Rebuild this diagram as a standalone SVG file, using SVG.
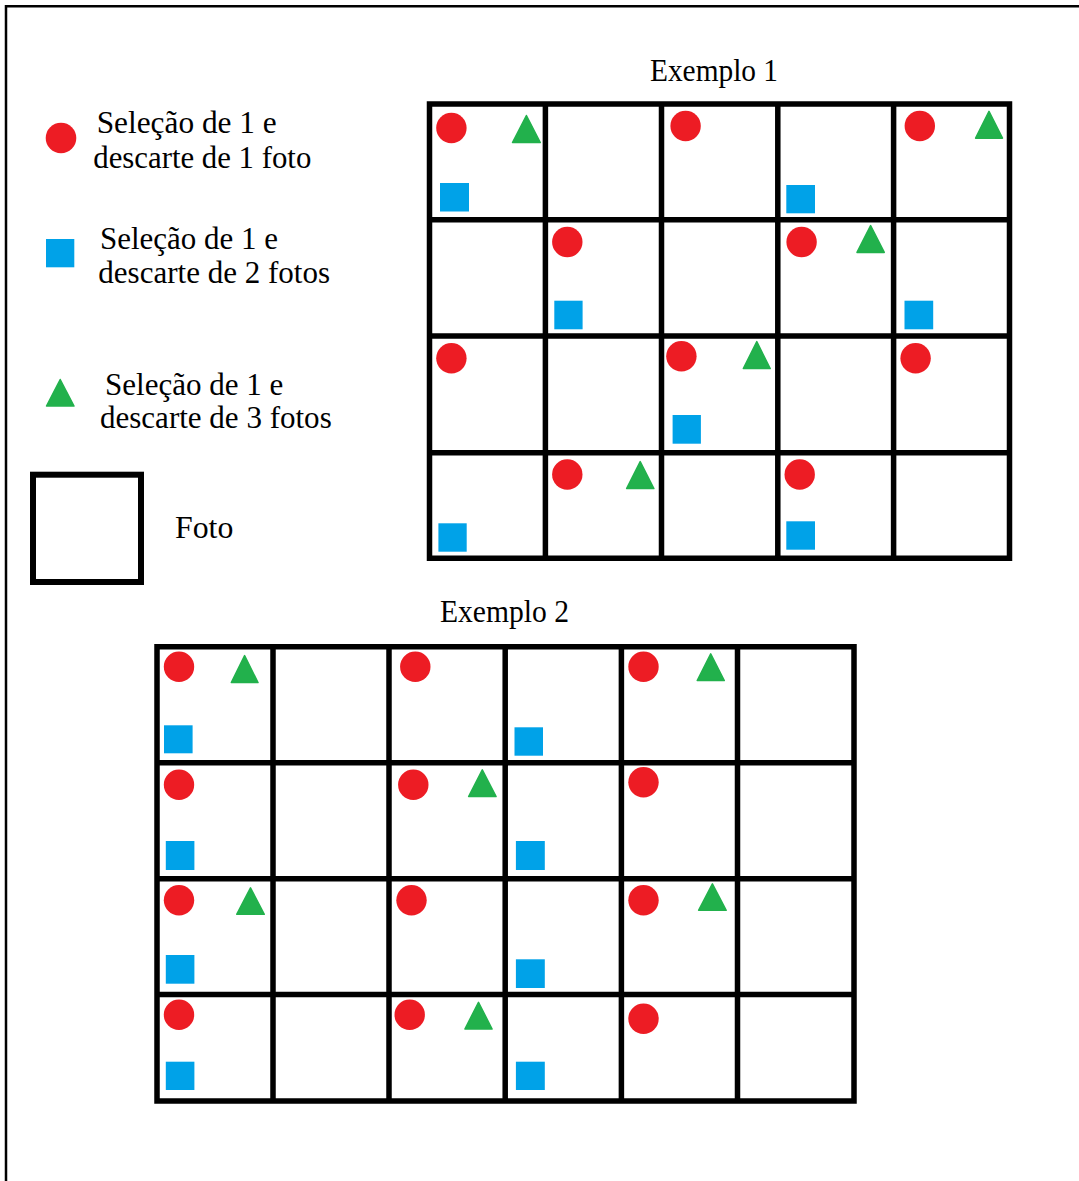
<svg xmlns="http://www.w3.org/2000/svg" width="1079" height="1181" viewBox="0 0 1079 1181">
<style>
.t{font-family:"Liberation Serif","Times New Roman",serif;font-size:31px;fill:#000}
.r{fill:#ED1C24}
.b{fill:#00A2E8}
.g{fill:#22B14C;stroke:#22B14C;stroke-width:1.5;stroke-linejoin:round}
.grid{fill:none;stroke:#000;stroke-width:5.5}
</style>
<rect width="1079" height="1181" fill="#fff"/>
<path id="frame" d="M6,1181V6.3H1079" fill="none" stroke="#000" stroke-width="2.5"/>

<g id="legend">
  <g id="legend-circle">
    <circle class="r" cx="61" cy="138" r="15.3"/>
    <text class="t" x="96.7" y="132.7" textLength="180" lengthAdjust="spacingAndGlyphs">Seleção de 1 e</text>
    <text class="t" x="93.3" y="168.3" textLength="218" lengthAdjust="spacingAndGlyphs">descarte de 1 foto</text>
  </g>
  <g id="legend-square">
    <rect class="b" x="46" y="239" width="28.3" height="28.3"/>
    <text class="t" x="100" y="249" textLength="178" lengthAdjust="spacingAndGlyphs">Seleção de 1 e</text>
    <text class="t" x="98.3" y="283.3" textLength="231.7" lengthAdjust="spacingAndGlyphs">descarte de 2 fotos</text>
  </g>
  <g id="legend-triangle">
    <polygon class="g" points="46.5,406 60.2,379.5 74,406"/>
    <text class="t" x="105" y="395" textLength="178.3" lengthAdjust="spacingAndGlyphs">Seleção de 1 e</text>
    <text class="t" x="100" y="428.3" textLength="231.7" lengthAdjust="spacingAndGlyphs">descarte de 3 fotos</text>
  </g>
  <g id="legend-foto">
    <rect x="33" y="474.7" width="108" height="107.3" fill="none" stroke="#000" stroke-width="6"/>
    <text class="t" x="175" y="538.3" textLength="58.3" lengthAdjust="spacingAndGlyphs">Foto</text>
  </g>
</g>

<g id="exemplo1">
  <text class="t" x="650" y="81" textLength="128" lengthAdjust="spacingAndGlyphs">Exemplo 1</text>
  <path class="grid" d="M429.5,104H1009.5V558.3H429.5Z M545.4,104V558.3 M661.5,104V558.3 M777.8,104V558.3 M893.6,104V558.3 M429.5,219.7H1009.5 M429.5,336H1009.5 M429.5,452.8H1009.5"/>
  <g id="ex1-marks">
    <circle class="r" cx="451.4" cy="128" r="15.2"/>
    <polygon class="g" points="512.5,142.5 526.4,115.5 540.3,142.5"/>
    <rect class="b" x="440" y="183" width="29" height="28.5"/>
    <circle class="r" cx="685.6" cy="126" r="15.2"/>
    <rect class="b" x="786.3" y="185" width="28.7" height="28.3"/>
    <circle class="r" cx="919.8" cy="126" r="15.2"/>
    <polygon class="g" points="975.6,138.2 989,111.3 1002.5,138.2"/>
    <circle class="r" cx="567.3" cy="242" r="15.2"/>
    <rect class="b" x="554.3" y="300.7" width="28.3" height="28.6"/>
    <circle class="r" cx="801.6" cy="242" r="15.2"/>
    <polygon class="g" points="857,252.4 870.6,225.6 884.3,252.4"/>
    <rect class="b" x="904.5" y="300.7" width="28.7" height="28.6"/>
    <circle class="r" cx="451.4" cy="358.3" r="15.2"/>
    <circle class="r" cx="681.4" cy="356.3" r="15.2"/>
    <polygon class="g" points="743.3,368.6 756.8,341.6 770.2,368.6"/>
    <rect class="b" x="672.6" y="415" width="28.3" height="28.7"/>
    <circle class="r" cx="915.6" cy="358.3" r="15.2"/>
    <rect class="b" x="438.4" y="523.3" width="28.3" height="28.4"/>
    <circle class="r" cx="567.3" cy="474.5" r="15.2"/>
    <polygon class="g" points="626.6,488.6 640.2,461.6 653.9,488.6"/>
    <circle class="r" cx="799.7" cy="474.5" r="15.2"/>
    <rect class="b" x="786.3" y="521.3" width="28.7" height="28.4"/>
  </g>
</g>

<g id="exemplo2">
  <text class="t" x="440" y="621.7" textLength="129" lengthAdjust="spacingAndGlyphs">Exemplo 2</text>
  <path class="grid" d="M157,646.7H854V1101H157Z M273,646.7V1101 M389,646.7V1101 M505.2,646.7V1101 M621.4,646.7V1101 M737.5,646.7V1101 M157,762.8H854 M157,878.8H854 M157,994.5H854"/>
  <g id="ex2-marks">
    <circle class="r" cx="179" cy="666.7" r="15.2"/>
    <polygon class="g" points="231.3,682.6 244.6,655.6 258,682.6"/>
    <rect class="b" x="164" y="725.3" width="28.6" height="28"/>
    <circle class="r" cx="415.3" cy="666.7" r="15.2"/>
    <rect class="b" x="514.5" y="727.3" width="28.5" height="28.4"/>
    <circle class="r" cx="643.5" cy="666.7" r="15.2"/>
    <polygon class="g" points="697.2,680.6 710.7,653.9 724.3,680.6"/>
    <circle class="r" cx="179" cy="784.7" r="15.2"/>
    <rect class="b" x="165.8" y="841" width="28.6" height="29"/>
    <circle class="r" cx="413.3" cy="784.7" r="15.2"/>
    <polygon class="g" points="468.6,796.6 482.3,769.9 496.1,796.6"/>
    <rect class="b" x="515.9" y="841" width="28.9" height="29"/>
    <circle class="r" cx="643.5" cy="782.3" r="15.2"/>
    <circle class="r" cx="179" cy="900.3" r="15.2"/>
    <polygon class="g" points="236.7,914.3 250.5,887.9 264.3,914.3"/>
    <rect class="b" x="165.8" y="955" width="28.6" height="28.7"/>
    <circle class="r" cx="411.5" cy="900.3" r="15.2"/>
    <rect class="b" x="515.9" y="959.3" width="28.9" height="28.7"/>
    <circle class="r" cx="643.5" cy="900.3" r="15.2"/>
    <polygon class="g" points="698.6,910.3 712.4,883.9 726.2,910.3"/>
    <circle class="r" cx="179" cy="1014.8" r="15.2"/>
    <rect class="b" x="165.8" y="1061.7" width="28.6" height="28.3"/>
    <circle class="r" cx="409.7" cy="1014.8" r="15.2"/>
    <polygon class="g" points="464.9,1029 478.5,1002.3 492.1,1029"/>
    <rect class="b" x="515.9" y="1061.7" width="28.9" height="28.3"/>
    <circle class="r" cx="643.5" cy="1018.8" r="15.2"/>
  </g>
</g>
</svg>
